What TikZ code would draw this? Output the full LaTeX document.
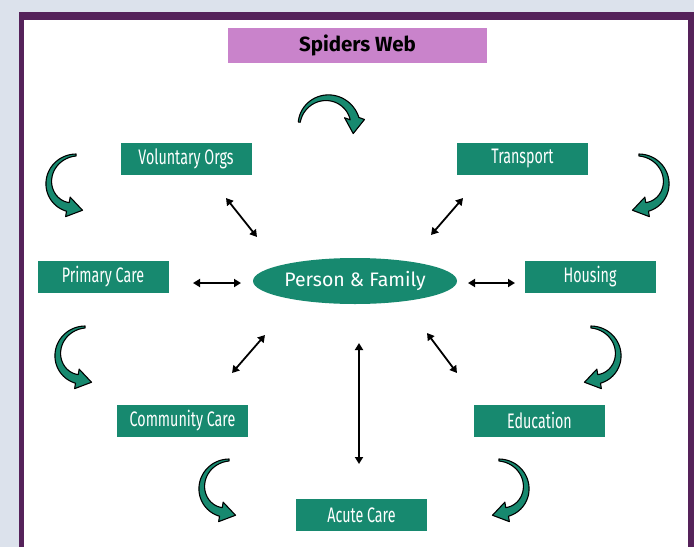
\documentclass[tikz,border=0pt]{standalone}
\usepackage{fontspec}
\setmainfont{Fira Sans}
\newfontfamily\condfont[FakeStretch=0.68]{Fira Sans}
\newfontfamily\titlefont{Fira Sans}
\usetikzlibrary{arrows.meta,shapes.geometric}

\definecolor{bgblue}{HTML}{DCE2EC}
\definecolor{framepurple}{HTML}{55225A}
\definecolor{orchidbox}{HTML}{C983CB}
\definecolor{tealbox}{HTML}{17896F}

\tikzset{
  agency/.style={fill=tealbox, draw=none, minimum width=131pt, minimum height=32pt,
    inner sep=0pt, text=white, font=\condfont\fontsize{21}{21}\selectfont},
  centre/.style={ellipse, fill=tealbox, draw=none, minimum width=204pt, minimum height=46pt,
    inner sep=0pt, text=white, font=\fontsize{19.5}{19.5}\selectfont},
  heading/.style={fill=orchidbox, draw=none, minimum width=259pt, minimum height=35pt,
    inner sep=0pt, text=black, font=\titlefont\bfseries\fontsize{20.5}{20.5}\selectfont},
  link/.style={line width=1.8pt,
    {Triangle[length=7pt,width=8pt]}-{Triangle[length=7pt,width=8pt]}},
  curl/.style={fill=tealbox, draw=black, line width=1.1pt, line join=round}
}

% curved cycle arrow: centre x, centre y, start radius, end radius,
% start angle, end angle, direction of the head
\newcommand\curlarrow[7]{%
  \pgfmathsetmacro\caS{sign(#6-#5)}%
  \pgfmathsetmacro\caPx{#1+#4*cos(#6)}%
  \pgfmathsetmacro\caPy{#2+#4*sin(#6)}%
  \pgfmathsetmacro\caIx{\caPx-\caS*10*sin(#7)}%
  \pgfmathsetmacro\caIy{\caPy+\caS*10*cos(#7)}%
  \pgfmathsetmacro\caOx{\caPx+\caS*10*sin(#7)}%
  \pgfmathsetmacro\caOy{\caPy-\caS*10*cos(#7)}%
  \pgfmathsetmacro\caTx{\caPx+15*cos(#7)}%
  \pgfmathsetmacro\caTy{\caPy+15*sin(#7)}%
  \draw[curl]
    plot[domain=#5:#6, samples=40, smooth]
      ({#1+(#3+(#4-#3)*(\x-#5)/(#6-#5)-(2+7*(\x-#5)/(#6-#5))/2)*cos(\x)},
       {#2+(#3+(#4-#3)*(\x-#5)/(#6-#5)-(2+7*(\x-#5)/(#6-#5))/2)*sin(\x)})
    -- (\caIx,\caIy) -- (\caTx,\caTy) -- (\caOx,\caOy)
    -- plot[domain=#6:#5, samples=40, smooth]
      ({#1+(#3+(#4-#3)*(\x-#5)/(#6-#5)+(2+7*(\x-#5)/(#6-#5))/2)*cos(\x)},
       {#2+(#3+(#4-#3)*(\x-#5)/(#6-#5)+(2+7*(\x-#5)/(#6-#5))/2)*sin(\x)})
    -- cycle;
}

\begin{document}
\begin{tikzpicture}[x=1pt, y=-1pt]
  \useasboundingbox (0,0) rectangle (694,547);
  % page, frame and panel
  \fill[bgblue] (0,0) rectangle (694,547);
  \fill[framepurple] (18.6,12.4) rectangle (694,547);
  \fill[white] (24.3,19.8) rectangle (688,547);

  % title
  \node[heading] (title) at (357.5,45.5) {Spiders Web};

  % centre and surrounding services
  \node[centre] (pf) at (355,281) {Person \& Family};
  \node[agency] (vol) at (186,158.5) {Voluntary Orgs};
  \node[agency] (trans) at (522.5,158.5) {Transport};
  \node[agency] (prim) at (103,277) {Primary Care};
  \node[agency] (hous) at (590,277) {Housing};
  \node[agency] (comm) at (182.5,420.5) {Community Care};
  \node[agency] (edu) at (539.5,420.5) {Education};
  \node[agency] (acute) at (361.5,515) {Acute Care};

  % ends of the two-way links
  \coordinate (vA) at (226,198);  \coordinate (vB) at (257,237);
  \coordinate (tA) at (463,198);  \coordinate (tB) at (431,235);
  \coordinate (pA) at (193,283);  \coordinate (pB) at (241,283);
  \coordinate (hA) at (515,283);  \coordinate (hB) at (468,283);
  \coordinate (cA) at (232,373);  \coordinate (cB) at (265,335);
  \coordinate (eA) at (457,373);  \coordinate (eB) at (427,333);
  \coordinate (aA) at (359,464);  \coordinate (aB) at (359,343);

  \draw[link] (vA) -- (vB);
  \draw[link] (tA) -- (tB);
  \draw[link] (pA) -- (pB);
  \draw[link] (hA) -- (hB);
  \draw[link] (cA) -- (cB);
  \draw[link] (eA) -- (eB);
  \draw[link] (aA) -- (aB);

  % cycle arrows around the web
  \curlarrow{327}{126}{28}{28.5}{188}{345}{95}
  \curlarrow{75}{185}{30}{23}{272}{108}{13}
  \curlarrow{640}{185}{30}{23}{-92}{72}{167}
  \curlarrow{84}{357}{30}{23}{272}{108}{13}
  \curlarrow{592}{357}{30}{23}{-92}{72}{167}
  \curlarrow{228}{490}{30}{23}{272}{108}{13}
  \curlarrow{500}{490}{30}{23}{-92}{72}{167}
\end{tikzpicture}
\end{document}
